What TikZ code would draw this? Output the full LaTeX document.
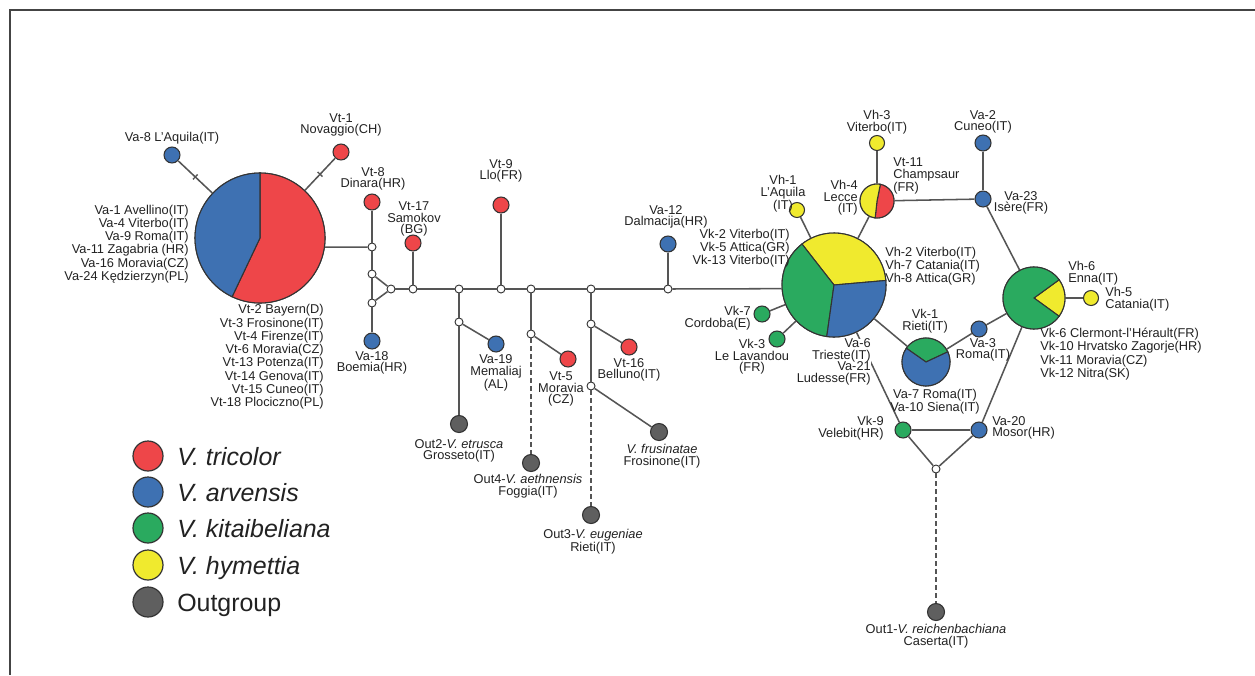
\documentclass[tikz,border=0pt]{standalone}
\usepackage{fontspec}
\setmainfont{Liberation Sans}
\definecolor{cred}{HTML}{EE4649}
\definecolor{cblue}{HTML}{3E71B2}
\definecolor{cgreen}{HTML}{2AAA5F}
\definecolor{cyel}{HTML}{F0EA2E}
\definecolor{cgrey}{HTML}{5F5F5F}
\definecolor{outl}{HTML}{333333}
\definecolor{linec}{HTML}{555555}
\definecolor{txt}{HTML}{222222}
\definecolor{frame}{HTML}{444444}
\newcommand\lblfont{\fontsize{9.6}{8.7}\selectfont}
\newcommand\pieslice[5]{\filldraw[fill=#5,draw=outl,line width=0.8pt] (#1) -- ++(#2:#4) arc[start angle=#2,end angle=#3,radius=#4] -- cycle;}
\begin{document}
\begin{tikzpicture}[x=0.75pt,y=-0.75pt,
 hap/.style={circle,draw=outl,line width=0.8pt,inner sep=0pt,minimum size=12pt},
 tr/.style={hap,fill=cred}, ar/.style={hap,fill=cblue}, ki/.style={hap,fill=cgreen},
 hy/.style={hap,fill=cyel,minimum size=11.25pt}, og/.style={hap,fill=cgrey,minimum size=12.75pt},
 mv/.style={circle,draw=outl,line width=0.7pt,fill=white,inner sep=0pt,minimum size=6pt},
 pie/.style={circle,draw=outl,line width=0.8pt,inner sep=0pt},
 lbl/.style={font=\lblfont,text=txt,inner sep=0pt,align=center},
 lk/.style={draw=linec,line width=1.15pt},
 dlk/.style={draw=linec,line width=1.9pt,dash pattern=on 3.5pt off 2.5pt},
 mtick/.style={sloped,draw=linec,line width=1pt,rectangle,minimum width=0pt,minimum height=5pt,inner sep=0pt},
 leg/.style={circle,draw=outl,line width=0.9pt,inner sep=0pt,minimum size=22.5pt},
 legt/.style={font=\fontsize{18.7}{20}\selectfont,text=txt,anchor=base west,inner sep=0pt}]
\useasboundingbox (0,0) rectangle (1255,675);
\fill[white] (0,0) rectangle (1255,675);
\draw[frame,line width=1.5pt] (1255,10) -- (10,10) -- (10,675);

% ---------- haplotype nodes ----------
\node[pie,minimum size=97.5pt] (pieL) at (260,238) {};
\pieslice{pieL.center}{-115.4}{90}{48.75pt}{cred}
\pieslice{pieL.center}{90}{244.6}{48.75pt}{cblue}
\node[ar] (va8) at (172,155) {};
\node[tr] (vt1) at (341,152) {};
\node[tr] (vt8) at (372,202) {};
\node[mv] (j1) at (372,247) {};
\node[mv] (j2) at (372,274) {};
\node[mv] (j3) at (372,303) {};
\node[ar] (va18) at (372,341) {};
\node[mv] (j4) at (391,289) {};
\node[mv] (j5) at (413,289) {};
\node[tr] (vt17) at (413,243) {};
\node[mv] (j6) at (459,289) {};
\node[mv] (j6b) at (459,322) {};
\node[ar] (va19) at (496,344) {};
\node[og] (out2) at (459,424) {};
\node[mv] (j7) at (501,289) {};
\node[tr] (vt9) at (501,205) {};
\node[mv] (j8) at (531,289) {};
\node[mv] (j8b) at (531,334) {};
\node[tr] (vt5) at (568,359) {};
\node[og] (out4) at (531,463) {};
\node[mv] (j9) at (591,289) {};
\node[mv] (j9b) at (591,324) {};
\node[tr] (vt16) at (629,347) {};
\node[mv] (j9c) at (591,386) {};
\node[og] (fru) at (659,432) {};
\node[og] (out3) at (591,515) {};
\node[mv] (j10) at (668,289) {};
\node[ar] (va12) at (668,244) {};

\node[pie,minimum size=78pt] (pieR) at (834,285) {};
\pieslice{pieR.center}{5}{128}{39pt}{cyel}
\pieslice{pieR.center}{128}{262}{39pt}{cgreen}
\pieslice{pieR.center}{262}{365}{39pt}{cblue}
\node[hy] (vh1) at (797,210) {};
\node[pie,minimum size=25.5pt] (pieH) at (877,201) {};
\pieslice{pieH.center}{-96.3}{78.7}{12.75pt}{cred}
\pieslice{pieH.center}{78.7}{263.7}{12.75pt}{cyel}
\node[hy] (vh3) at (877,143) {};
\node[ar] (va2) at (983,143) {};
\node[ar] (va23) at (983,199) {};
\node[ki] (vk7) at (762,314) {};
\node[ki] (vk3) at (777,339) {};
\node[pie,minimum size=36pt] (pieK) at (926,362) {};
\pieslice{pieK.center}{25}{145}{18pt}{cgreen}
\pieslice{pieK.center}{145}{385}{18pt}{cblue}
\node[ar] (va3) at (979,329) {};
\node[pie,minimum size=46.5pt] (pieE) at (1034,298) {};
\pieslice{pieE.center}{-36}{36}{23.25pt}{cyel}
\pieslice{pieE.center}{36}{324}{23.25pt}{cgreen}
\node[hy] (vh5) at (1091,298) {};
\node[ki] (vk9) at (903,430) {};
\node[ar] (va20) at (979,430) {};
\node[mv] (j11) at (936,469) {};
\node[og] (out1) at (936,612) {};

% ---------- connectors ----------
\draw[lk] (va8) -- node[mtick,pos=0.5] {} (pieL);
\draw[lk] (vt1) -- node[mtick,pos=0.5] {} (pieL);
\draw[lk] (pieL.-8) -- (j1);
\draw[lk] (vt8) -- (j1);
\draw[lk] (j1) -- (j2);
\draw[lk] (j2) -- (j3);
\draw[lk] (j3) -- (va18);
\draw[lk] (j2) -- (j4);
\draw[lk] (j3) -- (j4);
\draw[lk] (j4) -- (j5);
\draw[lk] (j5) -- (vt17);
\draw[lk] (j5) -- (j6);
\draw[lk] (j6) -- (j6b);
\draw[lk] (j6b) -- (va19);
\draw[lk] (j6b) -- (out2);
\draw[lk] (j6) -- (j7);
\draw[lk] (j7) -- (vt9);
\draw[lk] (j7) -- (j8);
\draw[lk] (j8) -- (j8b);
\draw[lk] (j8b) -- (vt5);
\draw[dlk] (j8b) -- (out4);
\draw[lk] (j8) -- (j9);
\draw[lk] (j9) -- (j9b);
\draw[lk] (j9b) -- (vt16);
\draw[lk] (j9b) -- (j9c);
\draw[lk] (j9c) -- (fru);
\draw[dlk] (j9c) -- (out3);
\draw[lk] (j9) -- (j10);
\draw[lk] (j10) -- (va12);
\draw[lk] (j10) -- (pieR.184);
\draw[lk] (pieR) -- (vh1);
\draw[lk] (pieR) -- (pieH);
\draw[lk] (pieH) -- (vh3);
\draw[lk] (pieH) -- (va23);
\draw[lk] (va23) -- (va2);
\draw[lk] (va23) -- (pieE);
\draw[lk] (pieR) -- (vk7);
\draw[lk] (pieR) -- (vk3);
\draw[lk] (pieR) -- (pieK);
\draw[lk] (pieK) -- (va3);
\draw[lk] (va3) -- (pieE);
\draw[lk] (pieE) -- (vh5);
\draw[lk] (pieE) -- (va20);
\draw[lk] (pieR) -- (vk9);
\draw[lk] (vk9) -- (va20);
\draw[lk] (vk9) -- (j11);
\draw[lk] (va20) -- (j11);
\draw[dlk] (j11) -- (out1);

% ---------- labels ----------
\node[lbl] (l-va8) at (172,138) {Va-8 L'Aquila(IT)};
\node[lbl] (l-vt1) at (341,125) {Vt-1\\Novaggio(CH)};
\node[lbl,align=right,anchor=east] (l-pieL1) at (189,244) {Va-1 Avellino(IT)\\Va-4 Viterbo(IT)\\Va-9 Roma(IT)\\Va-11 Zagabria (HR)\\Va-16 Moravia(CZ)\\Va-24 Kędzierzyn(PL)};
\node[lbl,align=right,anchor=east] (l-pieL2) at (324,357) {Vt-2 Bayern(D)\\Vt-3 Frosinone(IT)\\Vt-4 Firenze(IT)\\Vt-6 Moravia(CZ)\\Vt-13 Potenza(IT)\\Vt-14 Genova(IT)\\Vt-15 Cuneo(IT)\\Vt-18 Plociczno(PL)};
\node[lbl] (l-vt8) at (373,179) {Vt-8\\Dinara(HR)};
\node[lbl] (l-vt17) at (414,219) {Vt-17\\Samokov\\(BG)};
\node[lbl] (l-va18) at (372,363) {Va-18\\Boemia(HR)};
\node[lbl] (l-vt9) at (501,171) {Vt-9\\Llo(FR)};
\node[lbl] (l-va12) at (666,217) {Va-12\\Dalmacija(HR)};
\node[lbl] (l-va19) at (496,373) {Va-19\\Memaliaj\\(AL)};
\node[lbl] (l-vt5) at (561,389) {Vt-5\\Moravia\\(CZ)};
\node[lbl] (l-vt16) at (629,370) {Vt-16\\Belluno(IT)};
\node[lbl] (l-out2) at (459,451) {Out2-\textit{V. etrusca}\\Grosseto(IT)};
\node[lbl] (l-out4) at (528,486) {Out4-\textit{V. aethnensis}\\Foggia(IT)};
\node[lbl] (l-fru) at (662,456) {\textit{V. frusinatae}\\Frosinone(IT)};
\node[lbl] (l-out3) at (593,542) {Out3-\textit{V. eugeniae}\\Rieti(IT)};
\node[lbl] (l-vh3) at (877,122) {Vh-3\\Viterbo(IT)};
\node[lbl] (l-vh1) at (783,194) {Vh-1\\L'Aquila\\(IT)};
\node[lbl,align=right,anchor=east] (l-vh4) at (858,198) {Vh-4\\Lecce\\(IT)};
\node[lbl,align=left,anchor=west] (l-vt11) at (893,176) {Vt-11\\Champsaur\\(FR)};
\node[lbl] (l-va2) at (983,122) {Va-2\\Cuneo(IT)};
\node[lbl] (l-va23) at (1021,203) {Va-23\\Isère(FR)};
\node[lbl,align=right,anchor=east] (l-pieR1) at (790,248) {Vk-2 Viterbo(IT)\\Vk-5 Attica(GR)\\Vk-13 Viterbo(IT)};
\node[lbl,align=left,anchor=west] (l-pieR2) at (885,266) {Vh-2 Viterbo(IT)\\Vh-7 Catania(IT)\\Vh-8 Attica(GR)};
\node[lbl,align=right,anchor=east] (l-vk7) at (751,318) {Vk-7\\Cordoba(E)};
\node[lbl] (l-vk3) at (752,357) {Vk-3\\Le Lavandou\\(FR)};
\node[lbl,align=right,anchor=east,fill=white] (l-pieR3) at (871,362) {Va-6\\Trieste(IT)\\Va-21\\Ludesse(FR)};
\node[lbl] (l-vk1) at (925,321) {Vk-1\\Rieti(IT)};
\node[lbl] (l-pieK) at (935,402) {Va-7 Roma(IT)\\Va-10 Siena(IT)};
\node[lbl] (l-va3) at (983,350) {Va-3\\Roma(IT)};
\node[lbl,align=left,anchor=west] (l-vh6) at (1068,273) {Vh-6\\Enna(IT)};
\node[lbl,align=left,anchor=west] (l-vh5) at (1105,299) {Vh-5\\Catania(IT)};
\node[lbl,align=left,anchor=west] (l-pieE) at (1040,354) {Vk-6 Clermont-l'Hérault(FR)\\Vk-10 Hrvatsko Zagorje(HR)\\Vk-11 Moravia(CZ)\\Vk-12 Nitra(SK)};
\node[lbl,align=right,anchor=east] (l-vk9) at (884,428) {Vk-9\\Velebit(HR)};
\node[lbl,align=left,anchor=west] (l-va20) at (992,428) {Va-20\\Mosor(HR)};
\node[lbl] (l-out1) at (936,636) {Out1-\textit{V. reichenbachiana}\\Caserta(IT)};

% ---------- legend ----------
\node[leg,fill=cred] (g1) at (148,456) {};
\node[leg,fill=cblue] (g2) at (148,492) {};
\node[leg,fill=cgreen] (g3) at (148,528) {};
\node[leg,fill=cyel] (g4) at (148,565) {};
\node[leg,fill=cgrey] (g5) at (148,602) {};
\node[legt] (t1) at (177,465) {\textit{V. tricolor}};
\node[legt] (t2) at (177,501) {\textit{V. arvensis}};
\node[legt] (t3) at (177,537) {\textit{V. kitaibeliana}};
\node[legt] (t4) at (177,574) {\textit{V. hymettia}};
\node[legt] (t5) at (177,611) {Outgroup};
\end{tikzpicture}
\end{document}
